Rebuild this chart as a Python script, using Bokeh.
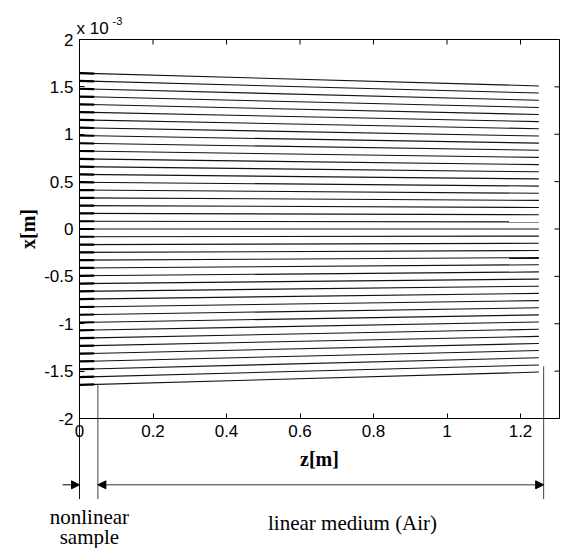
from bokeh.plotting import figure
from bokeh.models import Range1d, FixedTicker, Arrow, NormalHead, Label
from bokeh.embed import file_html
from bokeh.resources import INLINE

# beam trajectories: transverse position x (units of 1e-3 m) at the sample (z=0) and at the end (z=1.25 m)
x_start = [1.645, 1.563, 1.480, 1.398, 1.316, 1.234, 1.152, 1.069, 0.987, 0.905,
           0.823, 0.740, 0.658, 0.576, 0.494, 0.411, 0.329, 0.247, 0.165, 0.082,
           0.000,
           -0.082, -0.165, -0.247, -0.329, -0.411, -0.494, -0.576, -0.658, -0.740, -0.823,
           -0.905, -0.987, -1.069, -1.152, -1.234, -1.316, -1.398, -1.480, -1.563, -1.645]
x_end = [1.510, 1.435, 1.359, 1.283, 1.208, 1.133, 1.058, 0.981, 0.906, 0.831,
         0.756, 0.679, 0.604, 0.529, 0.453, 0.377, 0.302, 0.227, 0.151, 0.075,
         0.000,
         -0.075, -0.151, -0.227, -0.302, -0.377, -0.453, -0.529, -0.604, -0.679, -0.756,
         -0.831, -0.906, -0.981, -1.058, -1.133, -1.208, -1.283, -1.359, -1.435, -1.510]
z_start = 0.0
z_end = 1.25
z_sample_end = 0.05      # thickness of the nonlinear sample
z_observe = 1.263        # observation plane

# axis limits
z_min, z_max = 0.0, 1.306
x_min, x_max = -2.0, 2.0

x_ticks = [0, 0.2, 0.4, 0.6, 0.8, 1.0, 1.2]
x_tick_labels = ["0", "0.2", "0.4", "0.6", "0.8", "1", "1.2"]
y_ticks = [-2, -1.5, -1, -0.5, 0, 0.5, 1, 1.5, 2]
y_tick_labels = ["-2", "-1.5", "-1", "-0.5", "0", "0.5", "1", "1.5", "2"]

SANS = "Liberation Sans"
SERIF = "Liberation Serif"

W, H = 561, 548
PX_Z = 367.5     # pixels per metre along z
PX_X = 94.75     # pixels per 1e-3 m along x
LEFT_PAD, TOP_PAD = 79, 39

p = figure(width=W, height=H,
           x_range=Range1d(z_min - LEFT_PAD / PX_Z, z_min + (W - LEFT_PAD) / PX_Z),
           y_range=Range1d(x_max - (H - TOP_PAD) / PX_X, x_max + TOP_PAD / PX_X),
           output_backend="svg", toolbar_location=None, title=None,
           min_border=0)
p.min_border_left = p.min_border_right = p.min_border_top = p.min_border_bottom = 0
p.grid.visible = False
p.outline_line_color = None
p.background_fill_color = "white"
p.border_fill_color = "white"

def style_axis(ax, ticks, labels, loc, bounds):
    ax.fixed_location = loc
    ax.bounds = bounds
    ax.ticker = FixedTicker(ticks=ticks)
    ax.major_label_overrides = {t: l for t, l in zip(ticks, labels)}
    ax.major_tick_in = 5
    ax.major_tick_out = 0
    ax.minor_tick_line_color = None
    ax.axis_line_color = "black"
    ax.major_tick_line_color = "black"
    ax.major_label_text_font = SANS
    ax.major_label_text_color = "black"
    ax.major_label_text_font_size = "17px"
    ax.major_label_standoff = 6
    ax.axis_label_text_font = SERIF
    ax.axis_label_text_font_style = "bold"
    ax.axis_label_text_font_size = "20px"
    ax.axis_label_text_color = "black"

style_axis(p.xaxis[0], x_ticks, x_tick_labels, x_min, (z_min, z_max))
style_axis(p.yaxis[0], y_ticks, y_tick_labels, z_min, (x_min, x_max))
p.xaxis[0].axis_label = "z[m]"
p.yaxis[0].axis_label = "x[m]"
p.xaxis[0].axis_label_standoff = 8
p.yaxis[0].axis_label_standoff = 2

# box around the axes
p.quad(left=[z_min], right=[z_max], bottom=[x_min], top=[x_max],
       fill_color=None, line_color="black", line_width=1)

# ticks on top and right edges (pointing inwards)
tick_dz = 5 / PX_Z
tick_dx = 5 / PX_X
p.segment(x0=x_ticks, y0=[x_max] * len(x_ticks), x1=x_ticks, y1=[x_max - tick_dx] * len(x_ticks),
          line_color="black", line_width=1)
p.segment(x0=[z_max] * len(y_ticks), y0=y_ticks, x1=[z_max - tick_dz] * len(y_ticks), y1=y_ticks,
          line_color="black", line_width=1)

# beam lines
xs = [[z_start, z_end] for _ in x_start]
ys = [[a, b] for a, b in zip(x_start, x_end)]
p.multi_line(xs=xs, ys=ys, line_color="#111111", line_width=1.1)

# thicker part inside the nonlinear sample region
z_thick = z_sample_end * 0.8
xs2 = [[z_start, z_thick] for _ in x_start]
ys2 = [[a, a + (b - a) * z_thick / (z_end - z_start)] for a, b in zip(x_start, x_end)]
p.multi_line(xs=xs2, ys=ys2, line_color="black", line_width=2.2)

# guide lines and arrows below the axes
y_guide_bottom = -2.85
y_arrow = -2.70
p.segment(x0=[z_start, z_sample_end, z_observe],
          y0=[x_min, x_start[-1] + 0.01, x_end[-1] + 0.06],
          x1=[z_start, z_sample_end, z_observe],
          y1=[y_guide_bottom] * 3,
          line_color=["#111111", "#444444", "#444444"], line_width=1)

head = dict(size=8, fill_color="black", line_color="black")
p.add_layout(Arrow(start=None, end=NormalHead(**head), x_start=-0.046, y_start=y_arrow,
                   x_end=z_start, y_end=y_arrow, line_color="black", line_width=1))
p.add_layout(Arrow(start=NormalHead(**head), end=NormalHead(**head), x_start=z_sample_end, y_start=y_arrow,
                   x_end=z_observe, y_end=y_arrow, line_color="#333333", line_width=1))

# texts
p.add_layout(Label(x=0.027, y=-3.035, text="nonlinear", text_font=SERIF, text_font_size="21px",
                   text_align="center", text_baseline="alphabetic", text_color="black"))
p.add_layout(Label(x=0.027, y=-3.255, text="sample", text_font=SERIF, text_font_size="21px",
                   text_align="center", text_baseline="alphabetic", text_color="black"))
p.add_layout(Label(x=0.743, y=-3.105, text="linear medium (Air)", text_font=SERIF, text_font_size="21px",
                   text_align="center", text_baseline="alphabetic", text_color="black"))

# exponent label
p.add_layout(Label(x=-0.008, y=2.12, text="x 10", text_font=SANS, text_font_size="17px",
                   text_align="left", text_baseline="alphabetic", text_color="black"))
p.add_layout(Label(x=0.090, y=2.20, text="-3", text_font=SANS, text_font_size="11px",
                   text_align="left", text_baseline="alphabetic", text_color="black"))

open("out.html", "w").write(file_html(p, INLINE))
